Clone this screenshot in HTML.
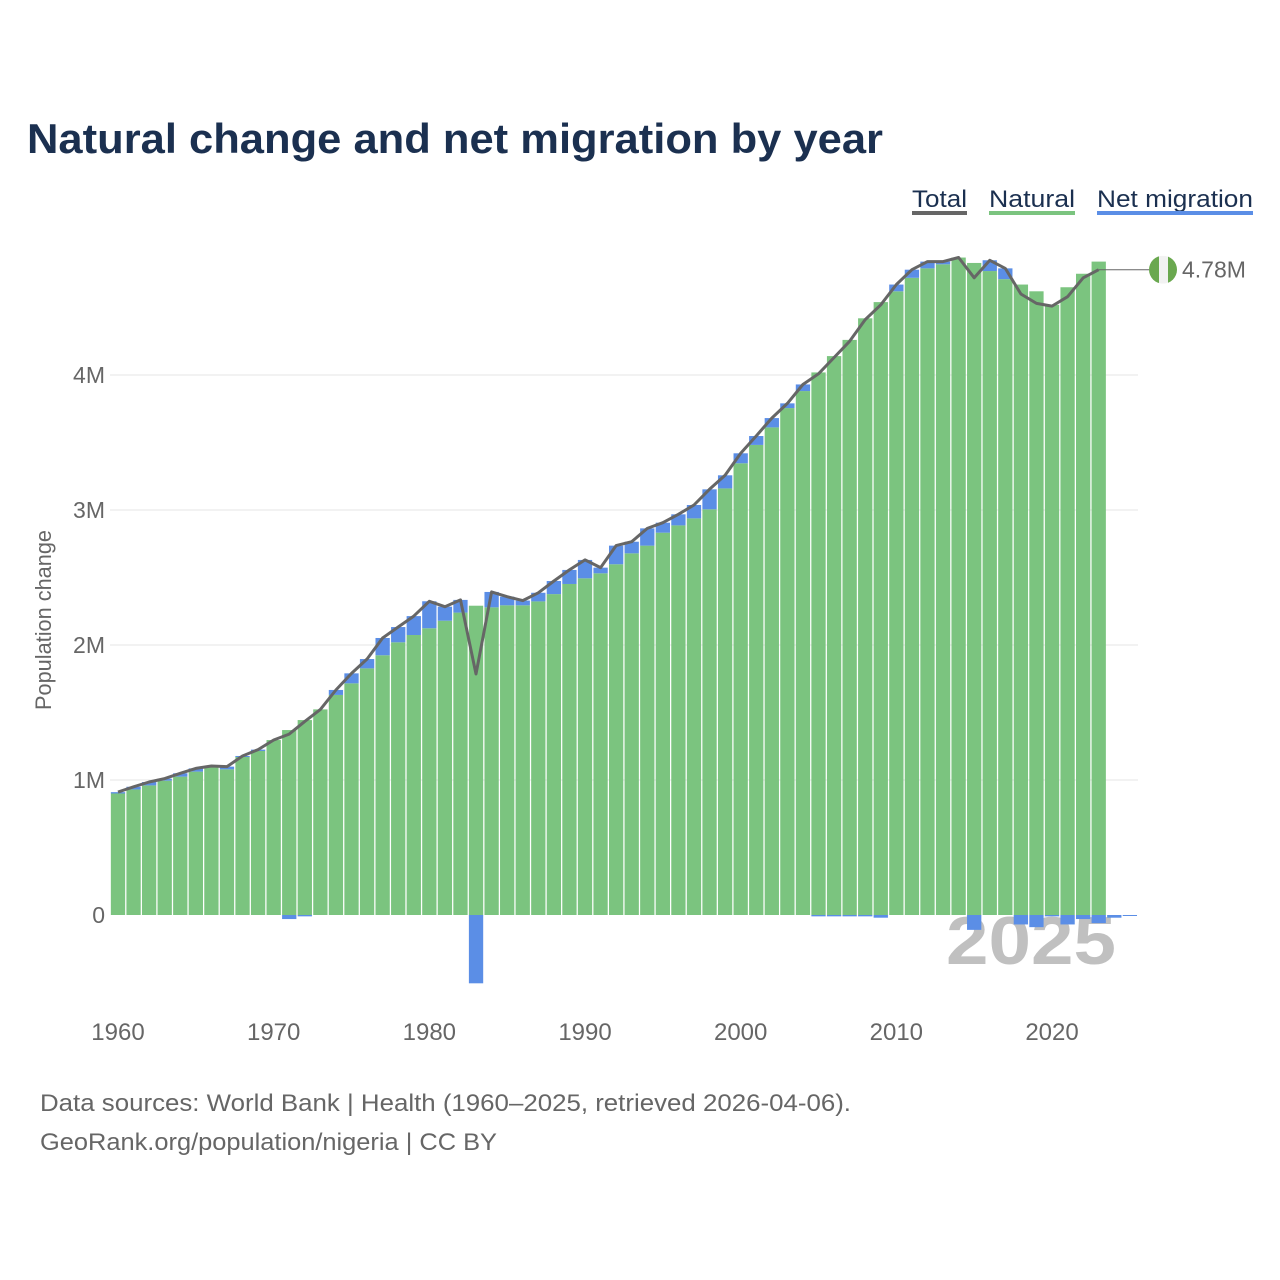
<!DOCTYPE html>
<html><head><meta charset="utf-8"><style>
html,body{margin:0;padding:0;background:#fff;}
svg{display:block;font-family:"Liberation Sans",sans-serif;}
</style></head><body>
<svg id="chart" width="1280" height="1280" viewBox="0 0 1280 1280" xmlns="http://www.w3.org/2000/svg">
<text x="27" y="153" font-size="42" font-weight="bold" fill="#1b3050" textLength="856" lengthAdjust="spacingAndGlyphs">Natural change and net migration by year</text>
<g font-size="24" fill="#1b3050">
 <g><text x="912" y="207" textLength="55" lengthAdjust="spacingAndGlyphs">Total</text><rect x="912" y="211" width="55" height="4" fill="#666"/></g>
 <g><text x="989" y="207" textLength="86" lengthAdjust="spacingAndGlyphs">Natural</text><rect x="989" y="211" width="86" height="4" fill="#7bc47f"/></g>
 <g><text x="1097" y="207" textLength="156" lengthAdjust="spacingAndGlyphs">Net migration</text><rect x="1097" y="211" width="156" height="4" fill="#5b8ee6"/></g>
</g>
<text transform="translate(51,620) rotate(-90)" text-anchor="middle" font-size="22" fill="#666" textLength="180" lengthAdjust="spacingAndGlyphs">Population change</text>
<g id="grid"></g>
<g id="ylabels" font-size="23" fill="#666" text-anchor="end"></g>
<g id="xlabels" font-size="24" fill="#666" text-anchor="middle"></g>
<text x="946" y="964" font-size="68" font-weight="bold" fill="#c0c0c0" textLength="170" lengthAdjust="spacingAndGlyphs">2025</text>
<g id="bars"></g>
<path id="totalLine" fill="none" stroke="#666" stroke-width="3" stroke-linejoin="round"/>
<g id="endLabel"></g>
<text x="40" y="1111" font-size="24" fill="#666" textLength="811" lengthAdjust="spacingAndGlyphs">Data sources: World Bank | Health (1960–2025, retrieved 2026-04-06).</text>
<text x="40" y="1150" font-size="24" fill="#666" textLength="457" lengthAdjust="spacingAndGlyphs">GeoRank.org/population/nigeria | CC BY</text>
</svg>
<script>
const years = [];
for (let y = 1960; y <= 2025; y++) years.push(y);
const natural = [0.90,0.93,0.96,0.995,1.025,1.062,1.094,1.079,1.173,1.215,1.296,1.37,1.444,1.523,1.63,1.716,1.827,1.924,2.02,2.074,2.124,2.18,2.24,2.291,2.279,2.294,2.294,2.323,2.377,2.452,2.494,2.531,2.598,2.679,2.736,2.832,2.886,2.938,3.005,3.16,3.346,3.482,3.612,3.755,3.881,4.019,4.14,4.26,4.42,4.54,4.62,4.72,4.79,4.82,4.87,4.83,4.77,4.71,4.67,4.62,4.52,4.65,4.75,4.84,0,0];
const netMigration = [0.01,0.02,0.025,0.015,0.025,0.024,0.01,0.02,0.005,0.01,0,-0.03,-0.01,0,0.037,0.074,0.069,0.128,0.113,0.14,0.2,0.104,0.094,-0.506,0.114,0.064,0.035,0.064,0.097,0.104,0.136,0.042,0.138,0.086,0.128,0.074,0.082,0.099,0.148,0.097,0.074,0.066,0.069,0.035,0.049,-0.01,-0.01,-0.01,-0.01,-0.02,0.05,0.06,0.05,0.02,0,-0.11,0.08,0.08,-0.07,-0.09,-0.01,-0.07,-0.03,-0.06,-0.02,-0.005];
const yTicks = [0,1,2,3,4];
const yTickLabels = ["0","1M","2M","3M","4M"];
const xTicks = [1960,1970,1980,1990,2000,2010,2020];
const totalYears = years.slice(0,64);

const NS = "http://www.w3.org/2000/svg";
const xs = yr => 118 + (yr - 1960) * 15.567;
const ys = v => 915 - v * 135;
const bw = 14.3;
function mk(tag, attrs, parent){const e=document.createElementNS(NS,tag);for(const k in attrs)e.setAttribute(k,attrs[k]);parent.appendChild(e);return e;}

const grid = document.getElementById('grid'), yl = document.getElementById('ylabels'), xl = document.getElementById('xlabels');
yTicks.forEach((t,i)=>{
  if (t>0){const g=mk('line',{x1:110,x2:1138,y1:ys(t),y2:ys(t),stroke:'#e6e6e6','stroke-width':1},grid);
  
  }
  const tx=mk('text',{x:105,y:ys(t)+8},yl); tx.textContent=yTickLabels[i];
  
  
});
xTicks.forEach(t=>{
  const tx=mk('text',{x:xs(t),y:1040},xl); tx.textContent=t;
  
  
});
const bars=document.getElementById('bars');
years.forEach((yr,i)=>{
  const n=natural[i], m=netMigration[i], x=xs(yr)-bw/2;
  if(n>0){const r=mk('rect',{x:x,y:ys(n),width:bw,height:ys(0)-ys(n),fill:'#7bc47f'},bars);
  
  }
  if(m!==0){
    let y0,y1;
    if(m>0){y0=ys(n+m);y1=ys(n);}else{y0=ys(0);y1=ys(m);}
    const r=mk('rect',{x:x,y:y0,width:bw,height:Math.max(1,y1-y0),fill:'#5b8ee6'},bars);
    
    
  }
});
let d='';
totalYears.forEach((yr,i)=>{const v=natural[i]+netMigration[i];d+=(i?'L':'M')+xs(yr).toFixed(1)+','+ys(v).toFixed(1);});
document.getElementById('totalLine').setAttribute('d',d);
const li=totalYears.length-1, lastV=natural[li]+netMigration[li];
const eg=document.getElementById('endLabel'), ly=ys(lastV);
const ln=mk('line',{x1:xs(totalYears[li]),x2:1149,y1:ly,y2:ly,stroke:'#666','stroke-width':1},eg);


const cp=mk('clipPath',{id:'fc'},eg); mk('circle',{cx:1163,cy:ly,r:14},cp);
const fg=mk('g',{'clip-path':'url(#fc)'},eg);


mk('rect',{x:1149,y:ly-14,width:10,height:28,fill:'#6aa84f'},fg);
mk('rect',{x:1159,y:ly-14,width:9,height:28,fill:'#f2f2f2'},fg);
mk('rect',{x:1168,y:ly-14,width:10,height:28,fill:'#6aa84f'},fg);
const lt=mk('text',{x:1182,y:ly+8,'font-size':23,fill:'#666'},eg);
lt.textContent=(lastV).toFixed(2)+'M';


</script>
</body></html>
